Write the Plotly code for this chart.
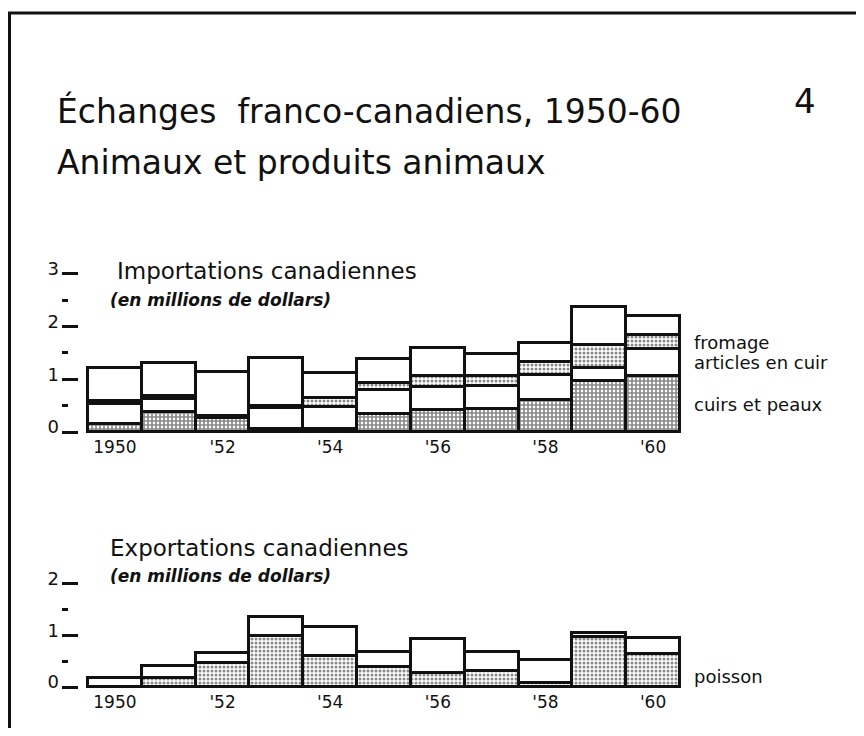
import plotly.graph_objects as go

# Données (millions de dollars)
annees = list(range(1950, 1961))
annee_ticks = [1950, 1952, 1954, 1956, 1958, 1960]
annee_labels = ["1950", "'52", "'54", "'56", "'58", "'60"]

imp_cuirs = [0.15, 0.38, 0.27, 0.05, 0.05, 0.34, 0.42, 0.43, 0.60, 0.97, 1.06]
imp_articles = [0.38, 0.24, 0.02, 0.40, 0.43, 0.46, 0.44, 0.45, 0.48, 0.25, 0.51]
imp_fromage = [0.05, 0.06, 0.02, 0.05, 0.17, 0.13, 0.20, 0.18, 0.25, 0.42, 0.27]
imp_autres = [0.63, 0.62, 0.82, 0.90, 0.47, 0.45, 0.54, 0.42, 0.35, 0.72, 0.35]

exp_poisson = [0.00, 0.18, 0.47, 0.98, 0.60, 0.38, 0.28, 0.30, 0.08, 0.97, 0.64]
exp_autres = [0.17, 0.22, 0.18, 0.37, 0.57, 0.30, 0.64, 0.38, 0.44, 0.07, 0.30]

# la page html ajoute une marge de 8 px autour de la figure
OFF = 8
W, H = 864 - 2 * OFF, 736 - 2 * OFF
FONT = "DejaVu Sans"
NOIR = "#111111"


def sy(p):
    # pixel vertical de l'écran -> coordonnée papier
    return 1 - (p - OFF) / H


def sx(p):
    return (p - OFF) / W


def barre(y, axes, motif=None, taille=4, solid=0.4):
    pattern = dict(shape="")
    if motif:
        pattern = dict(shape=motif, fgcolor=NOIR, bgcolor="white",
                       size=taille, solidity=solid, fillmode="overlay")
    return go.Bar(
        x=annees, y=y, width=1.0,
        xaxis=axes[0], yaxis=axes[1],
        marker=dict(color="white", line=dict(color=NOIR, width=3), pattern=pattern),
        hoverinfo="skip", showlegend=False,
    )


fig = go.Figure()
# importations
fig.add_trace(barre(imp_cuirs, ("x", "y"), "+", 4, 0.65))
fig.add_trace(barre(imp_articles, ("x", "y")))
fig.add_trace(barre(imp_fromage, ("x", "y"), ".", 4, 0.45))
fig.add_trace(barre(imp_autres, ("x", "y")))
# exportations
fig.add_trace(barre(exp_poisson, ("x2", "y2"), ".", 4, 0.45))
fig.add_trace(barre(exp_autres, ("x2", "y2")))

xdom = [sx(62), sx(683)]
xrange_ = [1949.5 - 26 / 53.8, 1960.5 + 3 / 53.8]

axe_x = dict(
    domain=xdom, range=xrange_, showgrid=False, zeroline=False, showline=False,
    automargin=False,
    tickmode="array", tickvals=annee_ticks, ticktext=annee_labels, ticks="",
    tickfont=dict(family=FONT, size=17, color=NOIR),
)
axe_y = dict(
    showgrid=False, zeroline=False, showline=False, automargin=False,
    tickmode="linear", dtick=1, tick0=0,
    ticks="inside", ticklen=16, tickwidth=3, tickcolor=NOIR,
    minor=dict(ticks="inside", ticklen=6, tickwidth=3, tickcolor=NOIR, dtick=0.5),
    tickfont=dict(family=FONT, size=18, color=NOIR),
    ticklabelshift=-5, ticklabelstandoff=2,
)

fig.update_layout(
    width=W, height=H,
    margin=dict(l=0, r=0, t=0, b=0, autoexpand=False),
    paper_bgcolor="white", plot_bgcolor="rgba(0,0,0,0)",
    barmode="stack", bargap=0, showlegend=False,
    xaxis=dict(axe_x, anchor="y"),
    yaxis=dict(axe_y, domain=[sy(435.2), sy(271.0)], range=[-0.06, 3.05], anchor="x"),
    xaxis2=dict(axe_x, anchor="y2"),
    yaxis2=dict(axe_y, domain=[sy(690.1), sy(581.0)], range=[-0.06, 2.05], anchor="x2"),
    font=dict(family=FONT, color=NOIR),
)

textes = [
    ("Échanges  franco-canadiens, 1950-60", 55, 111, 33),
    ("Animaux et produits animaux", 55, 162, 33),
    ("Importations canadiennes", 115, 271, 23),
    ("Exportations canadiennes", 108, 548, 23),
]
annots = []
for t, x, y, s in textes:
    annots.append(dict(text=t, x=sx(x), y=sy(y), xref="paper", yref="paper",
                       xanchor="left", yanchor="middle", showarrow=False,
                       font=dict(family=FONT, size=s, color=NOIR)))
for y in (300, 576):
    annots.append(dict(text="<b><i>(en millions de dollars)</i></b>", x=sx(108), y=sy(y),
                       xref="paper", yref="paper", xanchor="left", yanchor="middle",
                       showarrow=False, font=dict(family=FONT, size=17, color=NOIR)))
annots.append(dict(text="4", x=sx(805), y=sy(101), xref="paper", yref="paper",
                   xanchor="center", yanchor="middle", showarrow=False,
                   font=dict(family=FONT, size=34, color=NOIR)))

# étiquettes de séries à droite, alignées sur la barre de 1960
legendes = [
    ("fromage", "y", 1.70),
    ("articles en cuir", "y", 1.32),
    ("cuirs et peaux", "y", imp_cuirs[-1] / 2),
    ("poisson", "y2", 0.2),
]
for t, yref, y in legendes:
    annots.append(dict(text=t, x=sx(692), y=y, xref="paper", yref=yref,
                       xanchor="left", yanchor="middle", showarrow=False,
                       font=dict(family=FONT, size=18, color=NOIR)))
fig.update_layout(annotations=annots)

# cadre
fig.add_shape(type="line", xref="paper", yref="paper", x0=0, x1=1,
              y0=sy(13), y1=sy(13), line=dict(color=NOIR, width=3))
fig.add_shape(type="line", xref="paper", yref="paper", x0=sx(9.5), x1=sx(9.5),
              y0=sy(12), y1=0, line=dict(color=NOIR, width=3))
fig.add_shape(type="line", xref="paper", yref="paper", x0=sx(858), x1=sx(858),
              y0=sy(290), y1=sy(715), line=dict(color="#bbbbbb", width=1, dash="dot"))

fig.write_html("out.html")
